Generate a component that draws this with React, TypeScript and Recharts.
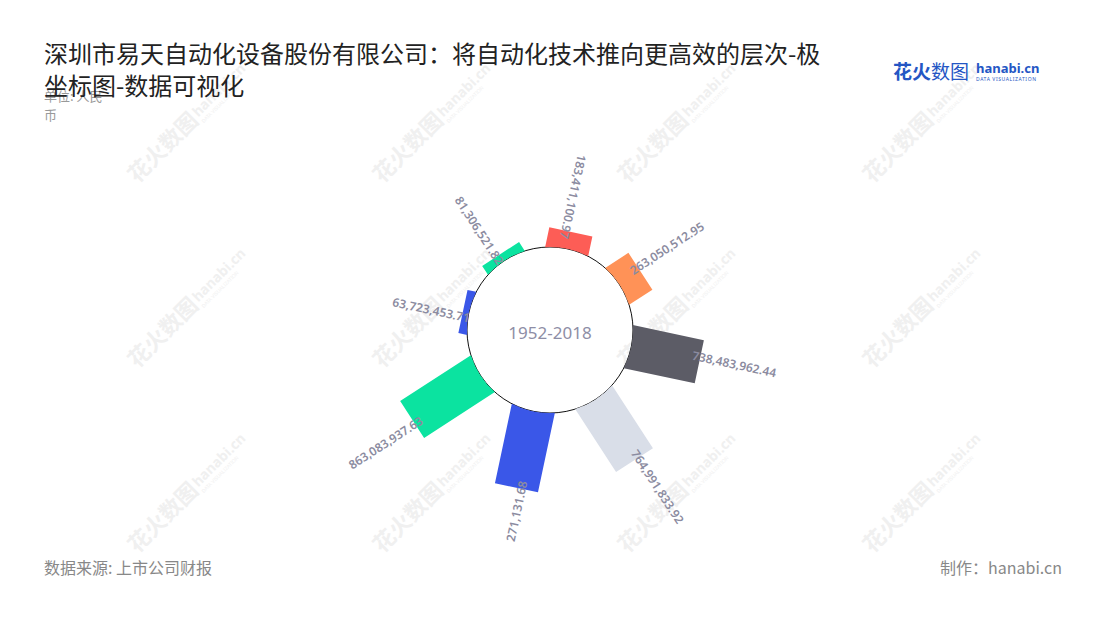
import React from 'react';
import { RadialBarChart, RadialBar, PolarAngleAxis, PolarRadiusAxis } from 'recharts';

const categories = ['1', '2', '3', '4', '5', '6', '7', '8'];
const values = [
  183411100.97, 263050512.95, 738483962.44, 764991833.92,
  830271131.68, 863083937.63, 63723453.71, 81306521.82,
];
const valueLabels = [
  '183,411,100.97', '263,050,512.95', '738,483,962.44', '764,991,833.92',
  '271,131.68', '863,083,937.63', '63,723,453.71', '81,306,521.82',
];
const colors = ['#fd5d56', '#ff9257', '#5c5c66', '#d9dee8', '#3a57e8', '#0be3a0', '#3a57e8', '#0be3a0'];

const data = categories.map((name, i) => ({
  name,
  value: values[i],
  label: valueLabels[i],
  fill: colors[i],
}));

const RAD = Math.PI / 180;
const BAR_W = 44;

function BarShape(props: any) {
  const { cx, cy, innerRadius, outerRadius, startAngle, endAngle, payload } = props;
  const mid = (startAngle + endAngle) / 2;
  const half = BAR_W / 2;
  const a = Math.sqrt(innerRadius * innerRadius - half * half);
  const d = `M${a},${-half} L${outerRadius},${-half} L${outerRadius},${half} L${a},${half} A${innerRadius},${innerRadius} 0 0 0 ${a},${-half} Z`;
  const outward = Math.cos(mid * RAD) > 0.3;
  const lx = outerRadius - 8;
  return (
    <g transform={`translate(${cx},${cy}) rotate(${-mid})`}>
      <path d={d} fill={payload.fill} />
      <text
        transform={`translate(${lx},-5) rotate(${outward ? 0 : 180})`}
        textAnchor={outward ? 'start' : 'end'}
        dominantBaseline="central"
        fontSize={12}
        fontWeight={600}
        fill="#8b8ba0"
        fontFamily="'Noto Sans', sans-serif"
      >
        {payload.label}
      </text>
    </g>
  );
}

const wmCols = [160, 405, 650, 895];
const wmRows = [150, 335, 520];

function Watermarks() {
  return (
    <svg width={1100} height={620} style={{ position: 'absolute', left: 0, top: 0 }}>
      {wmRows.map((y) =>
        wmCols.map((x) => (
          <g key={`${x}-${y}`} transform={`translate(${x},${y}) rotate(-45)`} fill="#f0f0f0">
            <text x={-40} y={8} fontSize={22} fontWeight={700} fontFamily="'Noto Sans CJK SC', sans-serif">花火数图</text>
            <text x={50} y={4} fontSize={14} fontWeight={700} fontFamily="'Noto Sans', sans-serif">hanabi.cn</text>
            <text x={50} y={12} fontSize={5} fontFamily="'Noto Sans', sans-serif">DATA VISUALIZATION</text>
          </g>
        ))
      )}
    </svg>
  );
}

export default function App() {
  return (
    <div
      style={{
        position: 'fixed',
        left: 0,
        top: 0,
        width: 1100,
        height: 620,
        background: '#fff',
        fontFamily: "'Noto Sans CJK SC', 'Noto Sans', sans-serif",
        overflow: 'hidden',
      }}
    >
      <Watermarks />
      <div style={{ position: 'absolute', left: 44, top: 86, width: 66, fontSize: 13, lineHeight: '19px', color: '#999' }}>
        单位: 人民币
      </div>
      <div style={{ position: 'absolute', left: 44, top: 37, width: 790, fontSize: 24, lineHeight: '32px', color: '#222' }}>
        深圳市易天自动化设备股份有限公司：将自动化技术推向更高效的层次-极坐标图-数据可视化
      </div>
      <div style={{ position: 'absolute', left: 893, top: 57, color: '#2456c4', whiteSpace: 'nowrap' }}>
        <span style={{ fontSize: 19, fontWeight: 700 }}>花火</span>
        <span style={{ fontSize: 19 }}>数图</span>
      </div>
      <div style={{ position: 'absolute', left: 976, top: 60, color: '#2456c4', whiteSpace: 'nowrap', fontFamily: "'Noto Sans', sans-serif" }}>
        <div style={{ fontSize: 13, fontWeight: 700, lineHeight: '16px' }}>hanabi.cn</div>
        <div style={{ fontSize: 5, lineHeight: '6px', letterSpacing: 0.6 }}>DATA VISUALIZATION</div>
      </div>
      <div style={{ position: 'absolute', top: 0, left: 0 }}>
        <RadialBarChart
          width={1100}
          height={620}
          cx={550}
          cy={330}
          innerRadius={83}
          outerRadius={177.3}
          startAngle={55.5}
          endAngle={-304.5}
          layout="centric"
          data={data}
          margin={{ top: 0, right: 0, bottom: 0, left: 0 }}
        >
          <PolarAngleAxis type="category" dataKey="name" tick={false} axisLine={false} tickLine={false} />
          <PolarRadiusAxis type="number" domain={[0, 1000000000]} tick={false} axisLine={false} tickLine={false} />
          <RadialBar dataKey="value" isAnimationActive={false} shape={<BarShape />} />
          <circle cx={550} cy={330} r={83} fill="none" stroke="#111" strokeWidth={1} />
          <text x={550} y={332} textAnchor="middle" dominantBaseline="central" fontSize={17} fill="#8e8ea6" fontFamily="'Noto Sans', sans-serif">
            1952-2018
          </text>
        </RadialBarChart>
      </div>
      <div style={{ position: 'absolute', left: 44, top: 555, fontSize: 16, color: '#888' }}>数据来源: 上市公司财报</div>
      <div style={{ position: 'absolute', right: 38, top: 555, fontSize: 16, color: '#888' }}>制作：hanabi.cn</div>
    </div>
  );
}
